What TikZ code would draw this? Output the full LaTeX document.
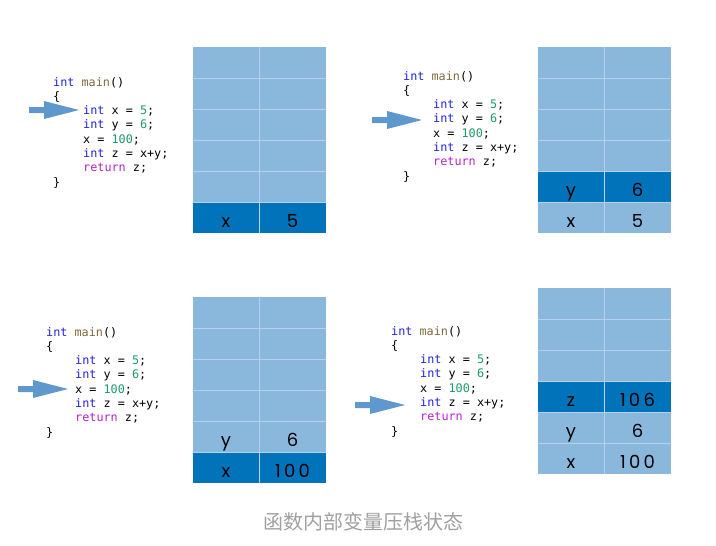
\documentclass[tikz,border=0pt]{standalone}
\usepackage{fontspec}
\setmonofont{DejaVu Sans Mono}
\newfontfamily\cellfont[LetterSpace=18]{Poppins}
\newfontfamily\cjk{Noto Sans CJK SC}
\definecolor{lightcell}{HTML}{8AB8DD}
\definecolor{darkcell}{HTML}{0073BA}
\definecolor{gridline}{HTML}{B4D2EC}
\definecolor{ptrcol}{HTML}{5E98CC}
\definecolor{kwcol}{HTML}{2222DD}
\definecolor{fncol}{HTML}{7D6A3C}
\definecolor{numcol}{HTML}{1E9A6A}
\definecolor{retcol}{HTML}{B023C8}
\definecolor{capcol}{HTML}{A0A0A0}
\newcommand\kw[1]{\textcolor{kwcol}{#1}}
\newcommand\fnc[1]{\textcolor{fncol}{#1}}
\newcommand\nm[1]{\textcolor{numcol}{#1}}
\newcommand\rt[1]{\textcolor{retcol}{#1}}
\tikzset{
  code/.style={anchor=base west, inner sep=0pt, font=\ttfamily\fontsize{11.8}{14}\selectfont},
  celltext/.style={anchor=base, inner sep=0pt, font=\cellfont\fontsize{18}{20}\selectfont},
  grid/.style={draw=gridline, line width=0.8pt},
  ptr/.style={fill=ptrcol},
  caption/.style={inner sep=0pt, text=capcol, font=\cjk\fontsize{20}{24}\selectfont}
}
% #1 left x of braces, #2 first baseline, #3 indent x, #4 prefix
\newcommand\codeblock[4]{%
  \node[code] (#4-0) at (#1,#2) {\kw{int} \fnc{main}()};
  \node[code] (#4-1) at (#1,#2+14.3) {\{};
  \node[code] (#4-2) at (#3,#2+28.6) {\kw{int} x = \nm{5};};
  \node[code] (#4-3) at (#3,#2+42.9) {\kw{int} y = \nm{6};};
  \node[code] (#4-4) at (#3,#2+57.2) {x = \nm{100};};
  \node[code] (#4-5) at (#3,#2+71.5) {\kw{int} z = x+y;};
  \node[code] (#4-6) at (#3,#2+85.8) {\rt{return} z;};
  \node[code] (#4-7) at (#1,#2+100.1) {\}};
}
% #1 left x, #2 top y, #3 dark row (0..5)
\newcommand\stackbox[3]{%
  \fill[lightcell] (#1,#2) rectangle ++(133,186);
  \fill[darkcell] (#1,#2+31*#3) rectangle ++(133,31);
  \foreach \i in {1,...,5} \draw[grid] (#1,#2+31*\i) -- ++(133,0);
  \draw[grid] (#1+66.5,#2) -- ++(0,186);
}
% pointer arrow, tip at (#1,#2)
\newcommand\pointer[2]{%
  \fill[ptr] (#1-50,#2-3) -- (#1-35,#2-3) -- (#1-35,#2-9) -- (#1,#2)
    -- (#1-35,#2+9) -- (#1-35,#2+3) -- (#1-50,#2+3) -- cycle;
}
\begin{document}
\begin{tikzpicture}[x=1pt,y=-1pt]
\useasboundingbox (0,0) rectangle (716,546);
% panel 1
\codeblock{53}{86}{83}{a}
\pointer{79}{110}
\stackbox{193}{47}{5}
\node[celltext] (a-x) at (226,227) {x};
\node[celltext] (a-xv) at (292.5,227) {5};
% panel 2
\codeblock{403}{80}{433}{b}
\pointer{422}{120}
\stackbox{538}{47}{4}
\node[celltext] (b-y) at (571,196) {y};
\node[celltext] (b-yv) at (637.5,196) {6};
\node[celltext] (b-x) at (571,227) {x};
\node[celltext] (b-xv) at (637.5,227) {5};
% panel 3
\codeblock{46}{336}{75}{c}
\pointer{68}{389}
\stackbox{193}{297}{5}
\node[celltext] (c-y) at (226,446) {y};
\node[celltext] (c-yv) at (292.5,446) {6};
\node[celltext] (c-x) at (226,477) {x};
\node[celltext] (c-xv) at (292.5,477) {100};
% panel 4
\codeblock{391}{335}{420}{d}
\pointer{405}{405}
\stackbox{538}{288}{3}
\node[celltext] (d-z) at (571,406) {z};
\node[celltext] (d-zv) at (637.5,406) {106};
\node[celltext] (d-y) at (571,437) {y};
\node[celltext] (d-yv) at (637.5,437) {6};
\node[celltext] (d-x) at (571,468) {x};
\node[celltext] (d-xv) at (637.5,468) {100};
% caption
\node[caption] (cap) at (363,522) {函数内部变量压栈状态};
\end{tikzpicture}
\end{document}
